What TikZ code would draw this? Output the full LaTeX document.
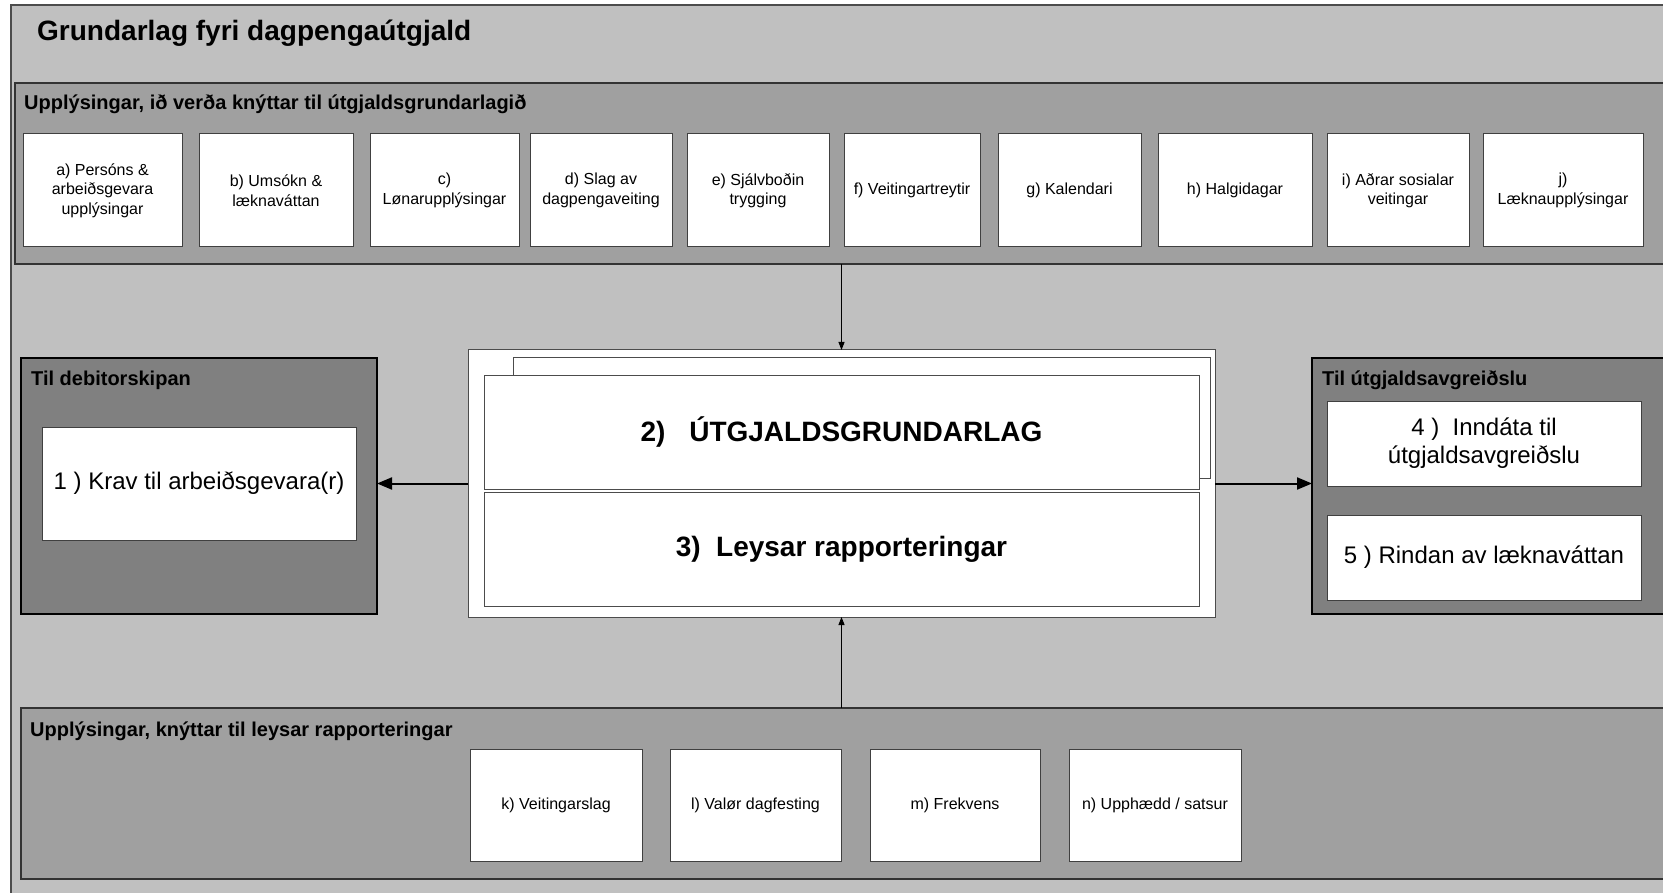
\documentclass[tikz,border=0pt]{standalone}
\usepackage{fontspec}
\setmainfont{Liberation Sans}
\usepackage{tikz}
\usetikzlibrary{arrows.meta,positioning}
\definecolor{framegray}{HTML}{C0C0C0}
\definecolor{panelgray}{HTML}{A0A0A0}
\definecolor{sidegray}{HTML}{808080}
\tikzset{>={Triangle[length=8pt,width=6pt]}}

\begin{document}
\begin{tikzpicture}[x=1pt,y=-1pt,
                    frame/.style={draw=black!70, line width=1.2pt, fill=framegray},
                    infopanel/.style={draw=black!80, line width=2pt, fill=panelgray, anchor=north west, inner sep=0pt, outer sep=0pt},
                    sidepanel/.style={draw=black, line width=2pt, fill=sidegray, anchor=north west, inner sep=0pt, outer sep=0pt},
                    paneltitle/.style={anchor=base west, inner sep=0pt, font=\fontsize{20}{24}\selectfont\bfseries},
                    itembox/.style={draw=black!75, line width=1pt, fill=white, anchor=north west, inner sep=0pt, outer sep=0pt, align=center, font=\fontsize{16}{19.5}\selectfont},
                    outbox/.style={draw=black!75, line width=1pt, fill=white, anchor=north west, inner sep=0pt, outer sep=0pt, align=center, font=\fontsize{24}{28}\selectfont},
                    docpage/.style={draw=black!70, line width=1pt, fill=white, anchor=north west, inner sep=0pt, outer sep=0pt, align=center, font=\fontsize{28}{32}\selectfont\bfseries},
                    thinarrow/.style={draw=black, line width=1pt, ->},
                    thickarrow/.style={draw=black, line width=2pt, -{Triangle[length=15pt,width=12pt]}},
                   ]

\useasboundingbox (0,0) rectangle (1663,893);
\clip (0,0) rectangle (1663,893);
\fill[white] (0,0) rectangle (1663,893);

\draw[frame] (11,5) rectangle (1720,940);
\node[anchor=base west, inner sep=0pt, font=\fontsize{28}{32}\selectfont\bfseries] (title) at (37,41) {Grundarlag fyri dagpengaútgjald};

% upper information panel
\node[infopanel, minimum width=1700pt, minimum height=181pt] (infotop) at (15,83) {};
\node[paneltitle] (infotoptitle) at (24,110) {Upplýsingar, ið verða knýttar til útgjaldsgrundarlagið};

\node[itembox, minimum width=159pt, minimum height=113pt] (a) at (23,134) {a) Persóns \&\\arbeiðsgevara\\upplýsingar};
\node[itembox, minimum width=154pt, minimum height=113pt] (b) at (199,134) {b) Umsókn \&\\læknaváttan};
\node[itembox, minimum width=149pt, minimum height=113pt] (c) at (370,134) {c)\\Lønarupplýsingar};
\node[itembox, minimum width=142pt, minimum height=113pt] (d) at (530,134) {d) Slag av\\dagpengaveiting};
\node[itembox, minimum width=142pt, minimum height=113pt] (e) at (687,134) {e) Sjálvboðin\\trygging};
\node[itembox, minimum width=136pt, minimum height=113pt] (f) at (844,134) {f) Veitingartreytir};
\node[itembox, minimum width=143pt, minimum height=113pt] (g) at (998,134) {g) Kalendari};
\node[itembox, minimum width=154pt, minimum height=113pt] (h) at (1158,134) {h) Halgidagar};
\node[itembox, minimum width=142pt, minimum height=113pt] (i) at (1327,134) {i) Aðrar sosialar\\veitingar};
\node[itembox, minimum width=160pt, minimum height=113pt] (j) at (1483,134) {j)\\Læknaupplýsingar};

% central document stack
\node[docpage, minimum width=747pt, minimum height=267pt] (grundarlag) at (468,350) {};
\node[docpage, minimum width=697pt, minimum height=120pt] (docback) at (513,358) {};
\node[docpage, minimum width=715pt, minimum height=114pt] (utgjald) at (484,375) {2)\hspace{0.85em}ÚTGJALDSGRUNDARLAG};
\node[docpage, minimum width=715pt, minimum height=114pt] (leysar) at (484,492) {3)\hspace{0.55em}Leysar rapporteringar};

% side panels
\node[sidepanel, minimum width=356pt, minimum height=256pt] (debitor) at (21,358) {};
\node[paneltitle] (debitortitle) at (31,385) {Til debitorskipan};
\node[outbox, minimum width=314pt, minimum height=113pt] (krav) at (42,427) {1 ) Krav til arbeiðsgevara(r)};

\node[sidepanel, minimum width=400pt, minimum height=256pt] (avgreidsla) at (1312,358) {};
\node[paneltitle] (avgreidslatitle) at (1322,385) {Til útgjaldsavgreiðslu};
\node[outbox, minimum width=314pt, minimum height=85pt] (inndata) at (1327,401) {4 )\ \ Inndáta til\\útgjaldsavgreiðslu};
\node[outbox, minimum width=314pt, minimum height=85pt] (rindan) at (1327,515) {5 ) Rindan av læknaváttan};

% lower information panel
\node[infopanel, minimum width=1700pt, minimum height=171pt] (infobottom) at (21,708) {};
\node[paneltitle] (infobottomtitle) at (30,736) {Upplýsingar, knýttar til leysar rapporteringar};

\node[itembox, minimum width=172pt, minimum height=112pt] (k) at (470,749) {k) Veitingarslag};
\node[itembox, minimum width=171pt, minimum height=112pt] (l) at (670,749) {l) Valør dagfesting};
\node[itembox, minimum width=170pt, minimum height=112pt] (m) at (870,749) {m) Frekvens};
\node[itembox, minimum width=172pt, minimum height=112pt] (n) at (1069,749) {n) Upphædd / satsur};

\draw[thinarrow] (infotop.south -| grundarlag.north) -- (grundarlag.north);
\draw[thinarrow] (infobottom.north -| grundarlag.south) -- (grundarlag.south);
\draw[thickarrow] (grundarlag.west) -- (debitor.east |- grundarlag.west);
\draw[thickarrow] (grundarlag.east) -- (avgreidsla.west |- grundarlag.east);

\end{tikzpicture}
\end{document}
